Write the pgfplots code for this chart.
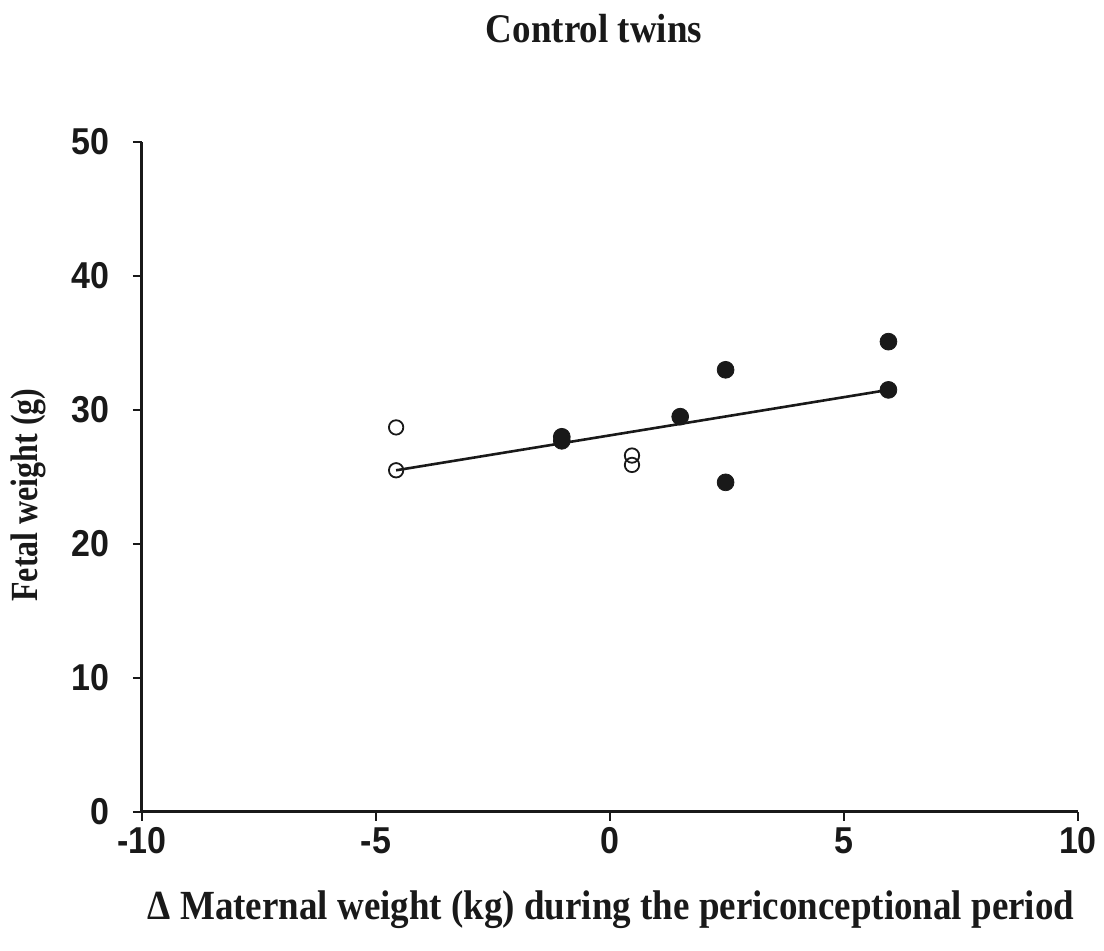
\documentclass[border=0pt]{standalone}
\usepackage{pgfplots}
\pgfplotsset{compat=1.18}
\usepackage{fontspec}
\setmainfont{Liberation Serif}
\newfontfamily\ticksans{Liberation Sans}

\begin{document}
\begin{tikzpicture}
\useasboundingbox (-71pt,-69.5pt) rectangle (481pt,406pt);
\begin{axis}[
  at={(0,0)}, anchor=south west,
  scale only axis, width=468pt, height=335pt,
  xmin=-10, xmax=10, ymin=0, ymax=50,
  axis x line*=bottom, axis y line*=left,
  xtick={-10,-5,0,5,10}, ytick={0,10,...,50},
  tick align=outside, major tick length=4.5pt,
  axis line style={line width=1.5pt, black!90},
  tick style={line width=1pt, black!90},
  /pgf/number format/assume math mode=true,
  ticklabel style={font=\ticksans\bfseries\fontsize{17}{17}\selectfont, text=black!90, yscale=1.1},
  xticklabel style={yshift=0.5pt},
  yticklabel style={xshift=-8.5pt},
  clip=false,
]
% fitted regression line
\addplot[no marks, line width=1.3pt, black!90] coordinates {(-4.57,25.5) (5.95,31.5)};
% open symbols
\addplot[only marks, mark=o, mark size=3.6pt, mark options={line width=0.9pt, black!90}]
  coordinates {(-4.57,28.7) (-4.57,25.5) (0.47,26.6) (0.47,25.9)};
% filled symbols
\addplot[only marks, mark=*, mark size=4.2pt, mark options={fill=black!90, draw=black!90}]
  coordinates {(-1.03,28.0) (-1.03,27.7) (1.5,29.5) (2.47,33.0) (2.47,24.6) (5.95,35.1) (5.95,31.5)};

\node[font=\bfseries\fontsize{18.5}{18.5}\selectfont, text=black!90, yscale=1.1]
  at (axis description cs:0.483,1.1687) {Control twins};
\node[font=\bfseries\fontsize{18.5}{18.5}\selectfont, text=black!90, yscale=1.12]
  at (axis description cs:0.501,-0.146) {Δ Maternal weight (kg) during the periconceptional period};
\node[font=\bfseries\fontsize{16}{16}\selectfont, text=black!90, rotate=90, yscale=1.2]
  at (axis description cs:-0.1218,0.473) {Fetal weight (g)};
\end{axis}
\end{tikzpicture}
\end{document}
